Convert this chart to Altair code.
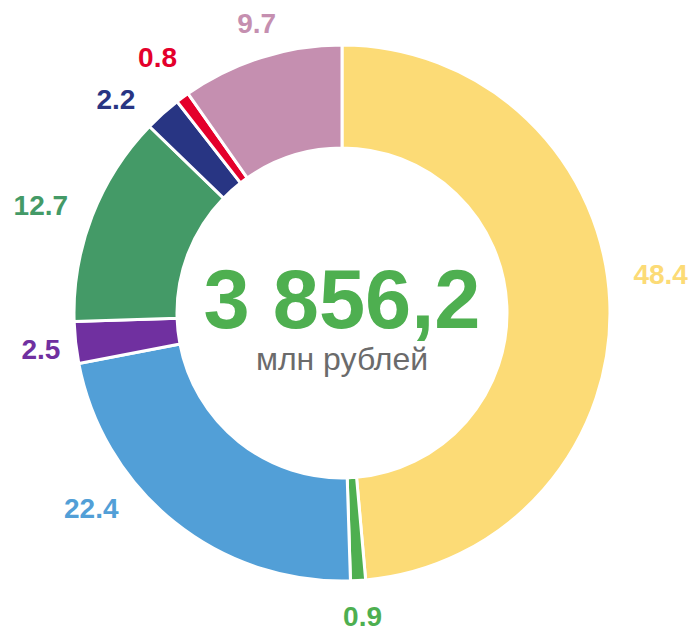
import altair as alt
import pandas as pd

labels = ["48.4", "0.9", "22.4", "2.5", "12.7", "2.2", "0.8", "9.7"]
values = [48.4, 0.9, 22.4, 2.5, 12.7, 2.2, 0.8, 9.7]
colors = ["#FCDB76", "#4EAF50", "#529FD7", "#7030A0", "#449A67", "#283583", "#E4002B", "#C58FB0"]
total_text = "3 856,2"
unit_text = "млн рублей"

df = pd.DataFrame({"label": labels, "value": values, "idx": list(range(len(values)))})

W, H = 668, 610

# label nudges (pixels) away from the default radial position, as in the reference
nudge = {
    "48.4": (9, -23), "0.9": (2, -4), "22.4": (-57, -45), "2.5": (7, 4),
    "12.7": (-12, 6), "2.2": (-19, 19), "0.8": (0, -5), "9.7": (8, 8),
}

base = alt.Chart(df).encode(
    theta=alt.Theta("value:Q", stack=True),
    order=alt.Order("idx:Q", sort="ascending"),
    color=alt.Color("label:N", scale=alt.Scale(domain=labels, range=colors), legend=None),
)

arcs = base.mark_arc(outerRadius=268, innerRadius=165, stroke="white", strokeWidth=3)

text_layers = []
for lab in labels:
    ddx, ddy = nudge[lab]
    text_layers.append(
        base.mark_text(radius=310, font="Liberation Sans", fontWeight="bold", fontSize=28,
                       align="center", baseline="middle", dx=ddx, dy=ddy)
        .encode(text="label:N", opacity=alt.condition(alt.datum.label == lab, alt.value(1), alt.value(0)))
    )

center = pd.DataFrame({"t": [total_text]})
big = alt.Chart(center).mark_text(font="Liberation Sans", fontWeight="bold", fontSize=83,
                                  color="#4EAF50", align="center", baseline="alphabetic").encode(
    text="t:N", x=alt.value(W / 2), y=alt.value(320))
unit = pd.DataFrame({"t": [unit_text]})
small = alt.Chart(unit).mark_text(font="Liberation Sans", fontSize=32, color="#6B6B6B",
                                  align="center", baseline="alphabetic").encode(
    text="t:N", x=alt.value(W / 2), y=alt.value(362))

chart = alt.layer(arcs, *text_layers, big, small).properties(
    width=W, height=H, autosize="none",
    padding={"left": 0, "top": 0, "right": 13, "bottom": 13},
).configure_view(stroke=None)

chart.save("out.html", embed_options={"renderer": "svg", "actions": False})
